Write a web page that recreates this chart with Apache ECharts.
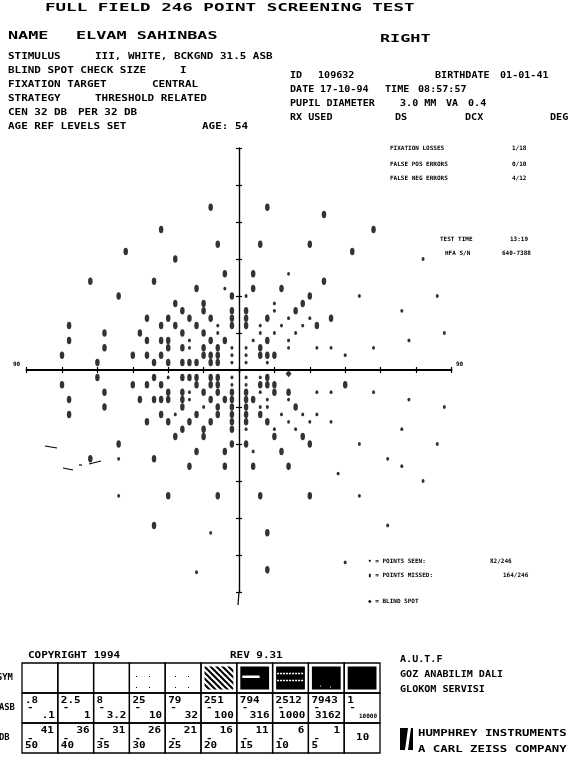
<!DOCTYPE html>
<html>
<head>
<meta charset="utf-8">
<script src="https://cdn.jsdelivr.net/npm/echarts@6/dist/echarts.min.js"></script>
<style>
    html, body { margin: 0; padding: 0; background: #fff; }
    #fieldChart { width: 572px; height: 765px; }
</style>
</head>
<body>
<div id="fieldChart"></div>
<script>
    // test locations in degrees [x, y]
    const seenPoints = [
        [21, 39], [51, 30], [78, 45], [84, 30], [69, 24], [87, 15], [72, 12], [30, 21],
        [-6, 33], [3, 30], [15, 27], [15, 24], [21, 21],
        [-9, 18], [9, 18], [18, 18], [27, 18],
        [-9, 15], [9, 15], [15, 15], [24, 15],
        [-21, 12], [6, 12], [21, 12],
        [-21, 9], [-3, 9], [3, 9], [21, 9], [33, 9], [39, 9], [57, 9],
        [-3, 6], [3, 6], [45, 6],
        [-3, 3], [3, 3], [12, 3],
        [-30, -3], [-3, -3], [3, -3], [9, -3],
        [-3, -6], [3, -6],
        [-21, -9], [9, -9], [33, -9], [39, -9], [57, -9],
        [-21, -12], [12, -12], [21, -12], [72, -12],
        [-15, -15], [9, -15], [12, -15], [87, -15],
        [-27, -18], [18, -18], [27, -18], [33, -18],
        [21, -21], [30, -21], [39, -21],
        [3, -24], [15, -24], [24, -24], [69, -24],
        [84, -30], [51, -30], [6, -33], [-51, -36], [63, -36], [69, -39], [42, -42], [78, -45],
        [-51, -51], [51, -51], [63, -63], [-12, -66], [45, -78], [-18, -82]
    ]
    const missedPoints = [
        [-12, 66], [12, 66], [-33, 57], [36, 63], [57, 57], [-9, 51], [9, 51], [30, 51], [-48, 48], [-27, 45], [48, 48],
        [-6, 39], [6, 39], [-63, 36], [-36, 36], [36, 36], [-18, 33], [6, 33], [18, 33], [-51, 30], [-3, 30], [30, 30],
        [-27, 27], [-15, 27], [27, 27],
        [-24, 24], [-15, 24], [-3, 24], [3, 24], [24, 24],
        [-39, 21], [-30, 21], [-21, 21], [-12, 21], [-3, 21], [3, 21], [12, 21], [39, 21],
        [-72, 18], [-33, 18], [-27, 18], [-18, 18], [-3, 18], [3, 18], [33, 18],
        [-57, 15], [-42, 15], [-24, 15], [-15, 15],
        [-72, 12], [-39, 12], [-33, 12], [-30, 12], [-12, 12], [-6, 12], [12, 12],
        [-57, 9], [-30, 9], [-24, 9], [-15, 9], [-9, 9], [9, 9],
        [-75, 6], [-45, 6], [-39, 6], [-33, 6], [-15, 6], [-12, 6], [-9, 6], [9, 6], [12, 6], [15, 6],
        [-60, 3], [-36, 3], [-30, 3], [-24, 3], [-21, 3], [-18, 3], [-12, 3], [-9, 3],
        [-60, -3], [-36, -3], [-24, -3], [-21, -3], [-18, -3], [-12, -3], [-9, -3], [12, -3],
        [-75, -6], [-45, -6], [-39, -6], [-33, -6], [-18, -6], [-12, -6], [-9, -6], [9, -6], [12, -6], [15, -6], [45, -6],
        [-57, -9], [-30, -9], [-24, -9], [-15, -9], [-9, -9], [-3, -9], [3, -9], [15, -9], [21, -9],
        [-72, -12], [-42, -12], [-36, -12], [-33, -12], [-30, -12], [-24, -12], [-12, -12], [-6, -12], [-3, -12], [3, -12], [6, -12],
        [-57, -15], [-24, -15], [-9, -15], [-3, -15], [3, -15], [24, -15],
        [-72, -18], [-33, -18], [-18, -18], [-9, -18], [-3, -18], [3, -18], [9, -18],
        [-39, -21], [-30, -21], [-21, -21], [-12, -21], [-3, -21], [3, -21], [12, -21],
        [-24, -24], [-15, -24], [-3, -24],
        [-27, -27], [-15, -27], [15, -27], [27, -27],
        [-51, -30], [-3, -30], [3, -30], [30, -30],
        [-18, -33], [-6, -33], [18, -33],
        [-63, -36], [-36, -36],
        [-21, -39], [-6, -39], [6, -39], [21, -39],
        [-30, -51], [-9, -51], [9, -51], [30, -51],
        [-36, -63], [12, -66], [12, -81]
    ]
    const blindSpotPoints = [[21, -1.5]]

    // grey scale legend
    const asbTop = ['.8', '2.5', '8', '25', '79', '251', '794', '2512', '7943', '1']
    const asbBottom = ['.1', '1', '3.2', '10', '32', '100', '316', '1000', '3162', '10000']
    const dbTop = ['41', '36', '31', '26', '21', '16', '11', '6', '1', '']
    const dbBottom = ['50', '40', '35', '30', '25', '20', '15', '10', '5', '10']
    const symShade = ['none', 'none', 'none', 'sparse', 'sparse', 'hatch', 'band', 'stripes', 'dense', 'solid']

    const INK = '#000'
    const MONO = '"DejaVu Sans Mono", monospace'

    function txt(text, x, y, size, sx, align) {
        return {
            type: 'text', x: x, y: y, scaleX: sx || 1, silent: true,
            style: {
                text: text, fill: INK, align: align || 'left', verticalAlign: 'middle',
                font: 'bold ' + size + 'px ' + MONO
            }
        }
    }
    const big = (s, x, y) => txt(s, x, y, 10.5, 1.6)
    const small = (s, x, y, a) => txt(s, x, y, 9.5, 1.15, a)
    const narrow = (s, x, y, a) => txt(s, x, y, 9.5, 1.06, a)
    const tiny = (s, x, y, a) => txt(s, x, y, 6, 1, a)

    function hatchPattern() {
        const c = document.createElement('canvas')
        c.width = 6; c.height = 6
        const g = c.getContext('2d')
        g.strokeStyle = INK; g.lineWidth = 2
        g.beginPath()
        g.moveTo(-1, -1); g.lineTo(7, 7)
        g.moveTo(-1, 5); g.lineTo(1, 7)
        g.moveTo(5, -1); g.lineTo(7, 1)
        g.stroke()
        return { image: c, repeat: 'repeat' }
    }
    function sparsePattern() {
        const c = document.createElement('canvas')
        c.width = 13; c.height = 11
        const g = c.getContext('2d')
        g.fillStyle = INK
        g.fillRect(6, 5, 1, 1)
        return { image: c, repeat: 'repeat' }
    }

    const els = []
    // header
    els.push(txt('FULL FIELD 246 POINT SCREENING TEST', 45, 8, 10.5, 1.67))
    els.push(big('NAME', 8, 36), big('ELVAM SAHINBAS', 76, 36), big('RIGHT', 380, 39))
    els.push(small('STIMULUS', 8, 57), small('III, WHITE, BCKGND 31.5 ASB', 95, 57))
    els.push(small('BLIND SPOT CHECK SIZE', 8, 71), small('I', 180, 71))
    els.push(small('FIXATION TARGET', 8, 85), small('CENTRAL', 152, 85))
    els.push(small('STRATEGY', 8, 99), small('THRESHOLD RELATED', 95, 99))
    els.push(small('CEN 32 DB', 8, 113), small('PER 32 DB', 78, 113))
    els.push(small('AGE REF LEVELS SET', 8, 127), small('AGE: 54', 202, 127))
    els.push(narrow('ID', 290, 76), narrow('109632', 318, 76), narrow('BIRTHDATE', 435, 76), narrow('01-01-41', 500, 76))
    els.push(narrow('DATE', 290, 90), narrow('17-10-94', 320, 90), narrow('TIME', 385, 90), narrow('08:57:57', 418, 90))
    els.push(narrow('PUPIL DIAMETER', 290, 104), narrow('3.0 MM', 400, 104), narrow('VA', 446, 104), narrow('0.4', 468, 104))
    els.push(narrow('RX USED', 290, 118), narrow('DS', 395, 118), narrow('DCX', 465, 118), narrow('DEG', 550, 118))

    // reliability block
    els.push(tiny('FIXATION LOSSES', 390, 148), tiny('1/18', 512, 148))
    els.push(tiny('FALSE POS ERRORS', 390, 164), tiny('0/10', 512, 164))
    els.push(tiny('FALSE NEG ERRORS', 390, 178), tiny('4/12', 512, 178))
    els.push(tiny('TEST TIME', 440, 239), tiny('13:19', 510, 239))
    els.push(tiny('HFA S/N', 445, 253), tiny('640-7388', 502, 253))

    // symbol legend
    els.push(tiny('\u2022 = POINTS SEEN:', 368, 561), tiny('82/246', 490, 561))
    els.push(tiny('\u25AE = POINTS MISSED:', 368, 575), tiny('164/246', 503, 575))
    els.push(tiny('\u25C6 = BLIND SPOT', 368, 601))

    // axis end labels
    els.push(tiny('90', 13, 364), tiny('90', 456, 364))

    // print smudges left of the field
    const smudge = [[45, 446, 57, 448], [63, 468, 73, 470], [79, 465, 82, 465], [89, 464, 101, 461]]
    smudge.forEach(s => els.push({
        type: 'line', silent: true, shape: { x1: s[0], y1: s[1], x2: s[2], y2: s[3] },
        style: { stroke: INK, lineWidth: 1.2 }
    }))

    // grey scale table
    const tx = 22, cw = 35.8, rows = [663, 693, 723], rh = 30
    els.push(small('COPYRIGHT 1994', 28, 656), small('REV 9.31', 230, 656))
    els.push(txt('SYM', -3, 678, 8, 1.1), txt('ASB', -1, 708, 8, 1.1), txt('DB', -1, 738, 8, 1.1))
    for (let i = 0; i < 10; i++) {
        const x = tx + i * cw
        for (let r = 0; r < 3; r++) {
            els.push({
                type: 'rect', silent: true,
                shape: { x: x, y: rows[r], width: cw, height: rh },
                style: { fill: 'none', stroke: INK, lineWidth: 1.3 }
            })
        }
        // symbol row
        const ix = x + 3.5, iy = rows[0] + 3.5, iw = cw - 7, ih = rh - 7
        const shade = symShade[i]
        if (shade === 'sparse') {
            els.push({ type: 'rect', silent: true, shape: { x: ix, y: iy, width: iw, height: ih }, style: { fill: sparsePattern() } })
        } else if (shade === 'hatch') {
            els.push({ type: 'rect', silent: true, shape: { x: ix, y: iy, width: iw, height: ih }, style: { fill: hatchPattern() } })
        } else if (shade !== 'none') {
            els.push({ type: 'rect', silent: true, shape: { x: ix, y: iy, width: iw, height: ih }, style: { fill: INK } })
            if (shade === 'band') {
                els.push({ type: 'rect', silent: true, shape: { x: ix + 2, y: iy + 9, width: iw * 0.6, height: 2.5 }, style: { fill: '#fff' } })
            } else if (shade === 'stripes') {
                els.push({ type: 'line', silent: true, shape: { x1: ix + 1, y1: iy + 7, x2: ix + iw - 1, y2: iy + 7 }, style: { stroke: '#fff', lineWidth: 1.5, lineDash: [2, 1] } })
                els.push({ type: 'line', silent: true, shape: { x1: ix + 1, y1: iy + 14, x2: ix + iw - 1, y2: iy + 14 }, style: { stroke: '#fff', lineWidth: 1.5, lineDash: [2, 1] } })
            } else if (shade === 'dense') {
                els.push({ type: 'rect', silent: true, shape: { x: ix + 8, y: iy + ih - 4, width: 1, height: 1 }, style: { fill: '#fff' } })
                els.push({ type: 'rect', silent: true, shape: { x: ix + 18, y: iy + ih - 3, width: 1, height: 1 }, style: { fill: '#fff' } })
            }
        }
        // asb row
        els.push(small(asbTop[i], x + 3, rows[1] + 8))
        els.push(small('-', x + 5, rows[1] + 15))
        if (i === 9) {
            els.push(txt(asbBottom[i], x + cw - 3, rows[1] + 23, 6, 1, 'right'))
        } else {
            els.push(small(asbBottom[i], x + cw - 3, rows[1] + 23, 'right'))
        }
        // db row
        if (i === 9) {
            els.push(small(dbBottom[i], x + cw / 2 - 6, rows[2] + 15))
        } else {
            els.push(small(dbTop[i], x + cw - 4, rows[2] + 8, 'right'))
            els.push(small('-', x + 5, rows[2] + 16))
            els.push(small(dbBottom[i], x + 3, rows[2] + 23))
        }
    }

    // institution + maker
    els.push(narrow('A.U.T.F', 400, 660), narrow('GOZ ANABILIM DALI', 400, 675), narrow('GLOKOM SERVISI', 400, 690))
    els.push({ type: 'rect', silent: true, shape: { x: 400, y: 728, width: 13, height: 22 }, style: { fill: INK } })
    els.push({ type: 'polygon', silent: true, shape: { points: [[405, 750], [408, 750], [411, 728], [408, 728]] }, style: { fill: '#fff' } })
    els.push(txt('HUMPHREY INSTRUMENTS', 418, 734, 9.5, 1.3), txt('A CARL ZEISS COMPANY', 418, 750, 9.5, 1.3))

    const axisBase = {
        type: 'value', min: -90, max: 90, interval: 15,
        axisLine: { show: true, onZero: true, lineStyle: { color: INK, width: 1.2 } },
        axisTick: { show: true, length: 3, lineStyle: { color: INK, width: 1.2 } },
        axisLabel: { show: false },
        splitLine: { show: false }
    }
    const xBase = Object.assign({}, axisBase, {
        axisLine: { show: true, onZero: true, lineStyle: { color: INK, width: 1.8 } }
    })

    const option = {
        backgroundColor: '#fff',
        animation: false,
        grid: { left: 26.6, top: 148, width: 424.8, height: 444 },
        xAxis: [
            Object.assign({}, xBase, { position: 'bottom' }),
            Object.assign({}, xBase, { position: 'top' })
        ],
        yAxis: [
            Object.assign({}, axisBase, { position: 'left' }),
            Object.assign({}, axisBase, { position: 'right' })
        ],
        series: [
            {
                name: 'missed', type: 'scatter', data: missedPoints,
                symbol: 'circle', symbolSize: [4.5, 7.5],
                itemStyle: { color: INK }, silent: true
            },
            {
                name: 'seen', type: 'scatter', data: seenPoints,
                symbol: 'circle', symbolSize: [3, 3.8],
                itemStyle: { color: INK }, silent: true
            },
            {
                name: 'blind spot', type: 'scatter', data: blindSpotPoints,
                symbol: 'diamond', symbolSize: [6, 7],
                itemStyle: { color: INK }, silent: true
            }
        ],
        graphic: { elements: els }
    }

    const fieldChart = echarts.init(document.getElementById('fieldChart'))
    fieldChart.setOption(option)

    // the printed vertical meridian runs a little past the last tick
    const axisEnd = fieldChart.convertToPixel({ gridIndex: 0 }, [0, -90])
    els.push({
        type: 'line', silent: true,
        shape: { x1: axisEnd[0], y1: axisEnd[1], x2: axisEnd[0] - 1, y2: axisEnd[1] + 13 },
        style: { stroke: INK, lineWidth: 1.2 }
    })
    fieldChart.setOption({ graphic: { elements: els } })
    window.addEventListener('resize', () => fieldChart.resize())
</script>
</body>
</html>
